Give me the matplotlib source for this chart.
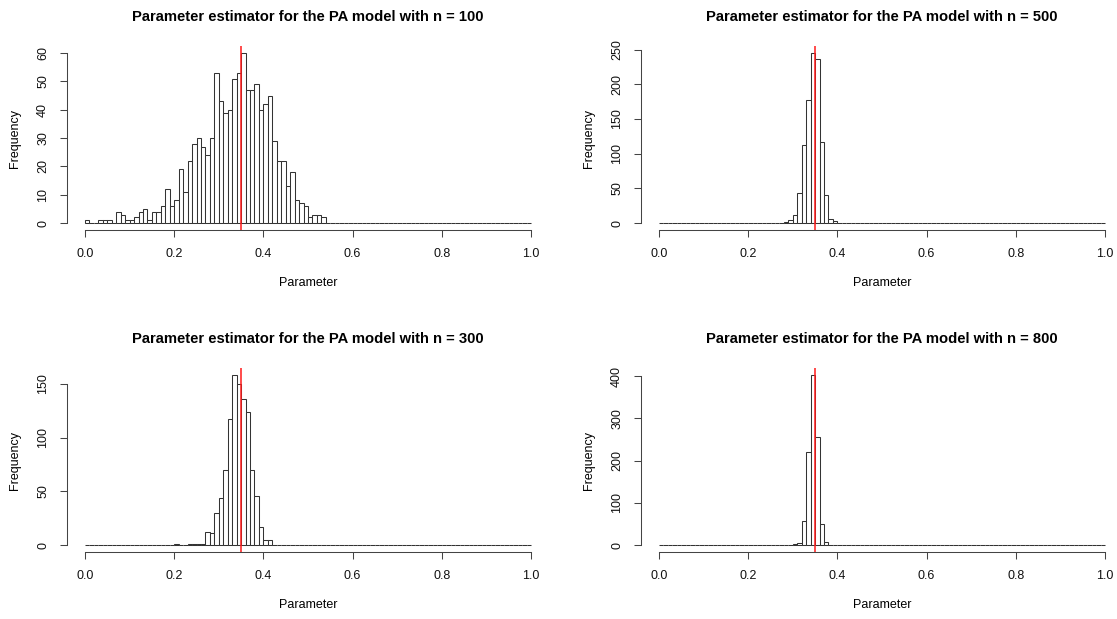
import numpy as np
import matplotlib
matplotlib.use("Agg")
import matplotlib.pyplot as plt

plt.rcParams['font.family'] = ['Liberation Sans', 'DejaVu Sans']

# ---- data (counts per bin of width 0.01 on [0, 1]) ----
bin_edges = np.linspace(0.0, 1.0, 101)

counts_n100 = ([1, 0, 0, 1, 1, 1, 0, 4, 3, 1, 1, 2, 4, 5, 1, 4, 4, 6, 12, 6,
                8, 19, 11, 22, 28, 30, 27, 24, 30, 53, 43, 39, 40, 51, 53, 60,
                47, 47, 49, 40, 42, 45, 29, 22, 22, 13, 18, 8, 7, 6, 2, 3, 3, 2]
               + [0] * 46)
counts_n500 = ([0] * 28 + [2, 5, 11, 43, 112, 178, 245, 237, 117, 41, 6, 3]
               + [0] * 60)
counts_n300 = ([0] * 20 + [1, 0, 0, 1, 1, 1, 1, 12, 11, 30, 44, 70, 117, 158,
                           150, 136, 124, 70, 46, 17, 5, 5]
               + [0] * 58)
counts_n800 = ([0] * 30 + [2, 5, 58, 221, 402, 256, 50, 6] + [0] * 62)

true_value = 0.35
x_ticks = [0.0, 0.2, 0.4, 0.6, 0.8, 1.0]
x_tick_labels = ["0.0", "0.2", "0.4", "0.6", "0.8", "1.0"]

panels = [
    ("n = 100", counts_n100, [0, 10, 20, 30, 40, 50, 60]),
    ("n = 500", counts_n500, [0, 50, 100, 150, 200, 250]),
    ("n = 300", counts_n300, [0, 50, 100, 150]),
    ("n = 800", counts_n800, [0, 100, 200, 300, 400]),
]

# ---- layout (pixel geometry of the reference) ----
W, H = 1117, 619
fig = plt.figure(figsize=(W / 100, H / 100), dpi=100)

lefts = [67.2, 641.2, 67.2, 641.2]
tops = [46.3, 46.3, 368.4, 368.4]
bottoms = [229.8, 229.8, 551.8, 551.8]
width_px = 481.6

base_fs = 9.0
for i, (label, counts, yticks) in enumerate(panels):
    l, t, b = lefts[i], tops[i], bottoms[i]
    h_px = b - t
    ax = fig.add_axes([l / W, 1 - b / H, width_px / W, h_px / H])
    counts = np.asarray(counts)
    ymax = counts.max()
    ax.bar(bin_edges[:-1], counts, width=np.diff(bin_edges), align='edge',
           facecolor='white', edgecolor='#333333', linewidth=0.75)
    ax.set_xlim(-0.04, 1.04)
    ax.set_ylim(-0.04 * ymax, 1.04 * ymax)
    ax.axvline(true_value, color='#ff1a1a', linewidth=1.1)

    for s in ['top', 'right']:
        ax.spines[s].set_visible(False)
    ax.spines['bottom'].set_bounds(0, 1)
    ax.spines['left'].set_bounds(yticks[0], yticks[-1])
    for s in ['bottom', 'left']:
        ax.spines[s].set_linewidth(0.75)
        ax.spines[s].set_color('#444444')

    ax.set_xticks(x_ticks)
    ax.set_xticklabels(x_tick_labels)
    ax.set_yticks(yticks)
    ax.set_yticklabels([str(v) for v in yticks], rotation=90, va='center')
    ax.tick_params(axis='both', direction='out', length=5, width=0.75,
                   color='#444444', labelsize=base_fs, pad=8,
                   labelcolor='#111111')

    ax.set_xlabel("Parameter", fontsize=base_fs, va='center')
    ax.xaxis.set_label_coords(0.5, -53 / h_px)
    ax.set_ylabel("Frequency", fontsize=base_fs, va='center')
    ax.yaxis.set_label_coords(-52 / width_px, 0.5)

    ax.set_title("Parameter estimator for the PA model with " + label,
                 fontsize=10.6, fontweight='bold', va='center',
                 y=1 + 29 / h_px, pad=0)

fig.savefig("out.png", dpi=100)
